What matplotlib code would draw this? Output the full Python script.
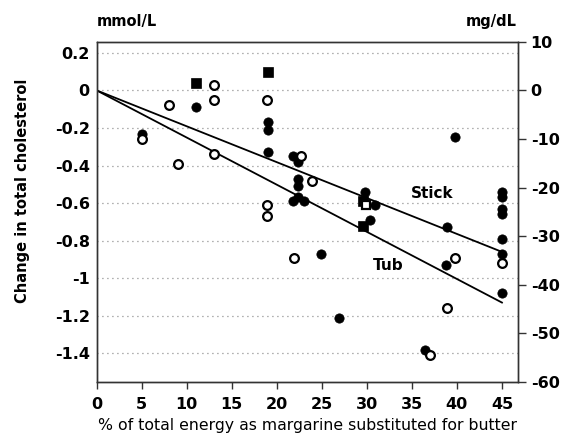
import matplotlib
matplotlib.use('Agg')
import matplotlib.pyplot as plt

plt.rcParams['font.family'] = ['DejaVu Sans']
plt.rcParams['font.weight'] = 'bold'

mg_per_mmol = 38.67  # mg/dL per mmol/L for cholesterol

# Filled circles
fc_x = [5, 11, 19, 19, 19, 21.8, 22.4, 22.4, 22.4, 21.8, 22.4, 23, 24.9, 26.9,
        29.8, 30.9, 30.3, 36.5, 38.9, 38.8, 39.8, 45, 45, 45, 45, 45, 45, 45]
fc_y = [-0.23, -0.09, -0.17, -0.21, -0.33, -0.35, -0.38, -0.47, -0.51, -0.59, -0.57, -0.59, -0.87, -1.21,
        -0.54, -0.61, -0.69, -1.38, -0.73, -0.93, -0.25, -0.54, -0.57, -0.63, -0.66, -0.79, -0.87, -1.08]
# Open circles
oc_x = [5, 8, 9, 13, 13, 13, 18.9, 18.9, 18.9, 22.7, 23.9, 21.9, 37, 38.9, 39.8, 45]
oc_y = [-0.26, -0.08, -0.39, 0.03, -0.05, -0.34, -0.05, -0.61, -0.67, -0.35, -0.48, -0.89, -1.41, -1.16, -0.89, -0.92]
# Filled squares
fs_x = [11, 19, 29.6, 29.6]
fs_y = [0.04, 0.10, -0.59, -0.72]
# Open squares
os_x = [29.9]
os_y = [-0.61]

# Regression lines
line_x = [0, 45]
stick_y = [0, -0.86]
tub_y = [0, -1.13]

xticks = [0, 5, 10, 15, 20, 25, 30, 35, 40, 45]
yticks = [0.2, 0, -0.2, -0.4, -0.6, -0.8, -1, -1.2, -1.4]
yticklabels = ['0.2', '0', '-0.2', '-0.4', '-0.6', '-0.8', '-1', '-1.2', '-1.4']
rticks = [10, 0, -10, -20, -30, -40, -50, -60]

fig = plt.figure(figsize=(5.62, 4.36), dpi=100)
ax = fig.add_axes([0.172, 0.1245, 0.75, 0.7795])

for y in yticks:
    ax.axhline(y, color='#666666', lw=0.9, ls=(0, (0.7, 3.3)), zorder=1)

ax.plot(line_x, stick_y, color='black', lw=1.3, zorder=2)
ax.plot(line_x, tub_y, color='black', lw=1.3, zorder=2)

ax.plot(fc_x, fc_y, 'o', ms=6.7, mfc='black', mec='black', mew=0.5, ls='none', zorder=3)
ax.plot(fs_x, fs_y, 's', ms=6.8, mfc='black', mec='black', mew=0.5, ls='none', zorder=3)
ax.plot(oc_x, oc_y, 'o', ms=6.3, mfc='white', mec='black', mew=1.6, ls='none', zorder=4)
ax.plot(os_x, os_y, 's', ms=6.3, mfc='white', mec='black', mew=1.6, ls='none', zorder=4)

ax.text(37.2, -0.547, 'Stick', fontsize=11, ha='center', va='center')
ax.text(32.4, -0.935, 'Tub', fontsize=11, ha='center', va='center')

ax.set_xlim(0, 46.8)
ax.set_ylim(-60 / mg_per_mmol, 10 / mg_per_mmol)
ax.set_xticks(xticks)
ax.set_xticklabels([str(t) for t in xticks], fontsize=11.5)
ax.set_yticks(yticks)
ax.set_yticklabels(yticklabels, fontsize=11.5)
ax.tick_params(axis='y', length=0, pad=5)
ax.tick_params(axis='x', length=5, width=1, direction='out', pad=6, color='#333333')
for s in ax.spines.values():
    s.set_color('#333333')
    s.set_linewidth(1)

ax2 = ax.twinx()
ax2.set_ylim(-60, 10)
ax2.set_yticks(rticks)
ax2.set_yticklabels([str(t) for t in rticks], fontsize=11.5)
ax2.tick_params(axis='y', length=6, width=1, direction='out', pad=3, color='#333333')
for s in ax2.spines.values():
    s.set_color('#333333')
    s.set_linewidth(1)

ax.set_xlabel('% of total energy as margarine substituted for butter', fontsize=11.3, labelpad=4)
fig.text(0.04, 0.562, 'Change in total cholesterol', rotation=90, fontsize=10.5,
         ha='center', va='center')
fig.text(0.172, 0.95, 'mmol/L', fontsize=10.5, ha='left', va='center')
fig.text(0.92, 0.95, 'mg/dL', fontsize=10.5, ha='right', va='center')

fig.savefig('out.png', dpi=100)
